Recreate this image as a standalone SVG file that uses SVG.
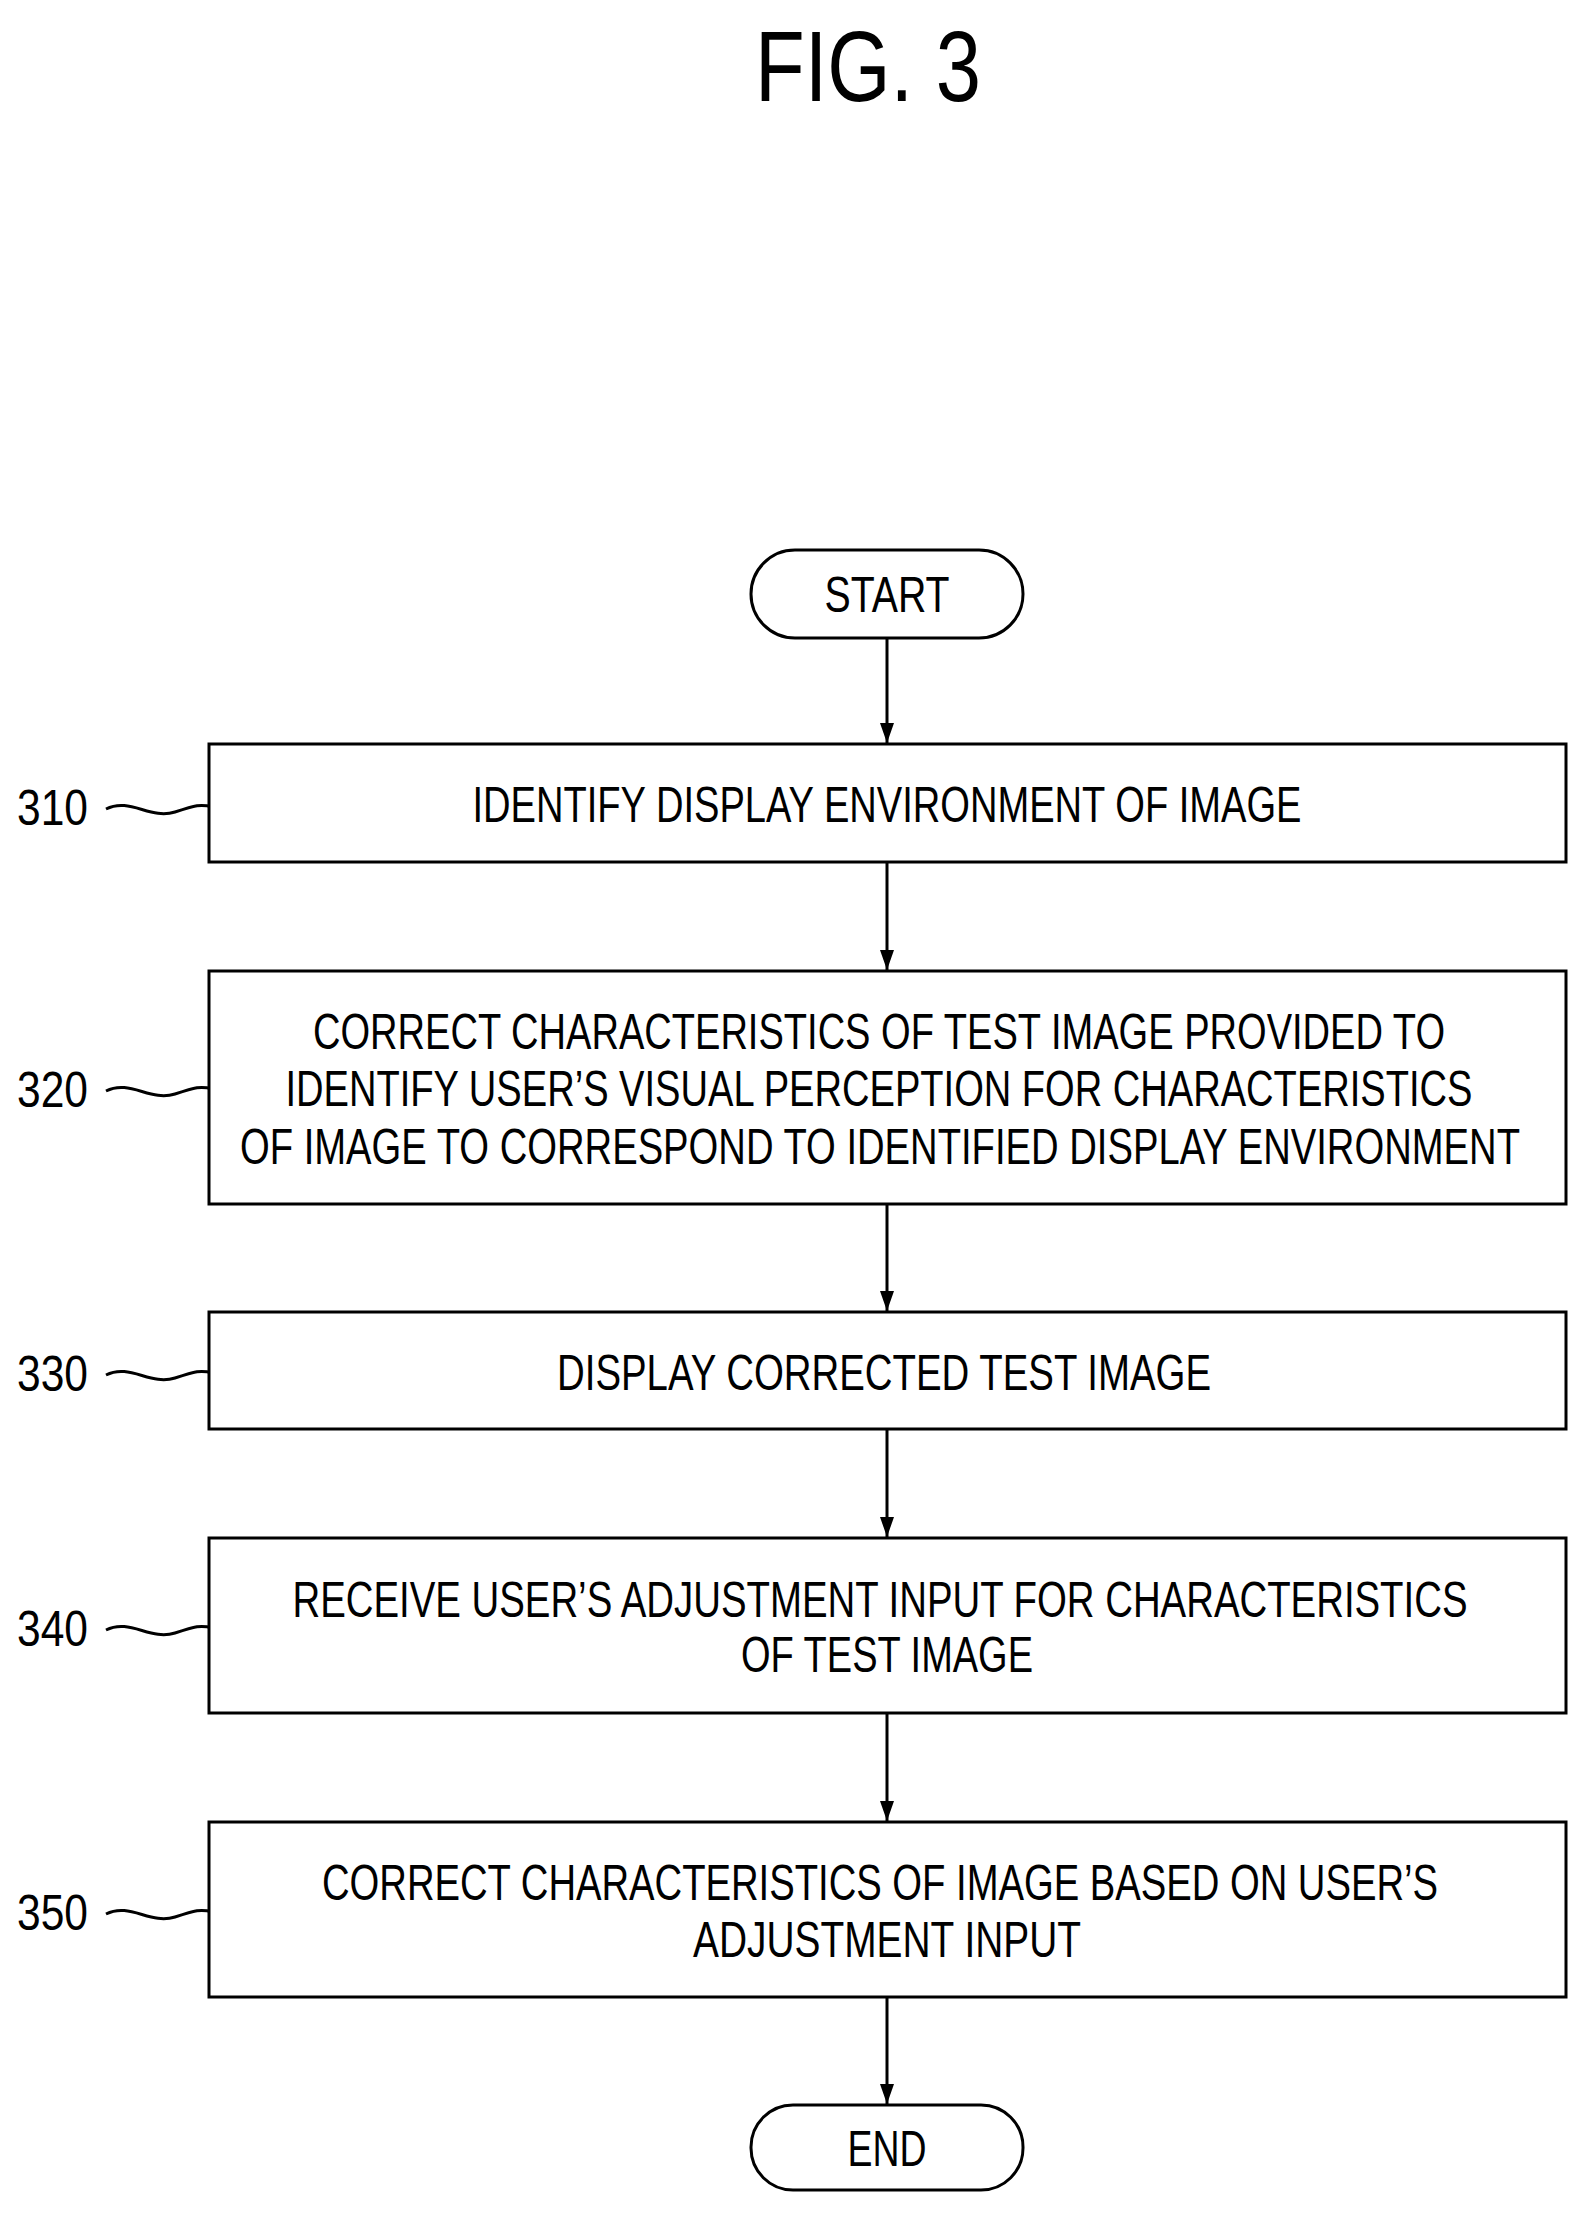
<svg xmlns="http://www.w3.org/2000/svg" width="1590" height="2215" viewBox="0 0 1590 2215">
<style>
text{font-family:"Liberation Sans",Arial,sans-serif;font-size:50px;fill:#000;text-anchor:middle}
.b{fill:#fff;stroke:#000;stroke-width:3}
.c{stroke:#000;stroke-width:3;fill:none}
.l{text-anchor:start}
</style>
<defs><marker id="a" markerWidth="10" markerHeight="14" refX="10" refY="7" orient="auto" markerUnits="userSpaceOnUse"><path d="M0,0 L10,7 L0,14 Z" fill="#000"/></marker>
<marker id="ah" viewBox="0 0 20 14" markerWidth="20" markerHeight="14" refX="20" refY="7" orient="auto" markerUnits="userSpaceOnUse"><path d="M0,0 L20,7 L0,14 Z" fill="#000"/></marker></defs>
<text x="868" y="101" style="font-size:100px" textLength="226" lengthAdjust="spacingAndGlyphs">FIG. 3</text>
<g id="start"><rect class="b" x="751" y="550" width="272" height="88" rx="44"/><text x="887" y="612" textLength="125" lengthAdjust="spacingAndGlyphs">START</text></g>
<g id="n310"><rect class="b" x="209" y="744" width="1357" height="118"/><text x="887" y="822" textLength="829" lengthAdjust="spacingAndGlyphs">IDENTIFY DISPLAY ENVIRONMENT OF IMAGE</text>
<text class="l" x="17" y="825" textLength="71" lengthAdjust="spacingAndGlyphs">310</text><path class="c" d="M106,809 C130,797 150,820 175,812 S200,805 209,806"/></g>
<g id="n320"><rect class="b" x="209" y="971" width="1357" height="233"/>
<text x="879" y="1049" textLength="1132" lengthAdjust="spacingAndGlyphs">CORRECT CHARACTERISTICS OF TEST IMAGE PROVIDED TO</text>
<text x="879" y="1106" textLength="1187" lengthAdjust="spacingAndGlyphs">IDENTIFY USER’S VISUAL PERCEPTION FOR CHARACTERISTICS</text>
<text x="880" y="1164" textLength="1280" lengthAdjust="spacingAndGlyphs">OF IMAGE TO CORRESPOND TO IDENTIFIED DISPLAY ENVIRONMENT</text>
<text class="l" x="17" y="1107" textLength="71" lengthAdjust="spacingAndGlyphs">320</text><path class="c" d="M106,1091 C130,1079 150,1102 175,1094 S200,1087 209,1088"/></g>
<g id="n330"><rect class="b" x="209" y="1312" width="1357" height="117"/><text x="884" y="1390" textLength="654" lengthAdjust="spacingAndGlyphs">DISPLAY CORRECTED TEST IMAGE</text>
<text class="l" x="17" y="1391" textLength="71" lengthAdjust="spacingAndGlyphs">330</text><path class="c" d="M106,1375 C130,1363 150,1386 175,1378 S200,1371 209,1372"/></g>
<g id="n340"><rect class="b" x="209" y="1538" width="1357" height="175"/>
<text x="880" y="1617" textLength="1175" lengthAdjust="spacingAndGlyphs">RECEIVE USER’S ADJUSTMENT INPUT FOR CHARACTERISTICS</text>
<text x="887" y="1672" textLength="292" lengthAdjust="spacingAndGlyphs">OF TEST IMAGE</text>
<text class="l" x="17" y="1646" textLength="71" lengthAdjust="spacingAndGlyphs">340</text><path class="c" d="M106,1630 C130,1618 150,1641 175,1633 S200,1626 209,1627"/></g>
<g id="n350"><rect class="b" x="209" y="1822" width="1357" height="175"/>
<text x="880" y="1900" textLength="1116" lengthAdjust="spacingAndGlyphs">CORRECT CHARACTERISTICS OF IMAGE BASED ON USER’S</text>
<text x="887" y="1957" textLength="388" lengthAdjust="spacingAndGlyphs">ADJUSTMENT INPUT</text>
<text class="l" x="17" y="1930" textLength="71" lengthAdjust="spacingAndGlyphs">350</text><path class="c" d="M106,1914 C130,1902 150,1925 175,1917 S200,1910 209,1911"/></g>
<g id="end"><rect class="b" x="751" y="2105" width="272" height="85" rx="42"/><text x="887" y="2166" textLength="79" lengthAdjust="spacingAndGlyphs">END</text></g>
<g id="connectors" class="c" marker-end="url(#ah)">
<line x1="887" y1="638" x2="887" y2="743"/>
<line x1="887" y1="862" x2="887" y2="970"/>
<line x1="887" y1="1204" x2="887" y2="1311"/>
<line x1="887" y1="1429" x2="887" y2="1537"/>
<line x1="887" y1="1713" x2="887" y2="1821"/>
<line x1="887" y1="1997" x2="887" y2="2104"/>
</g>
</svg>
